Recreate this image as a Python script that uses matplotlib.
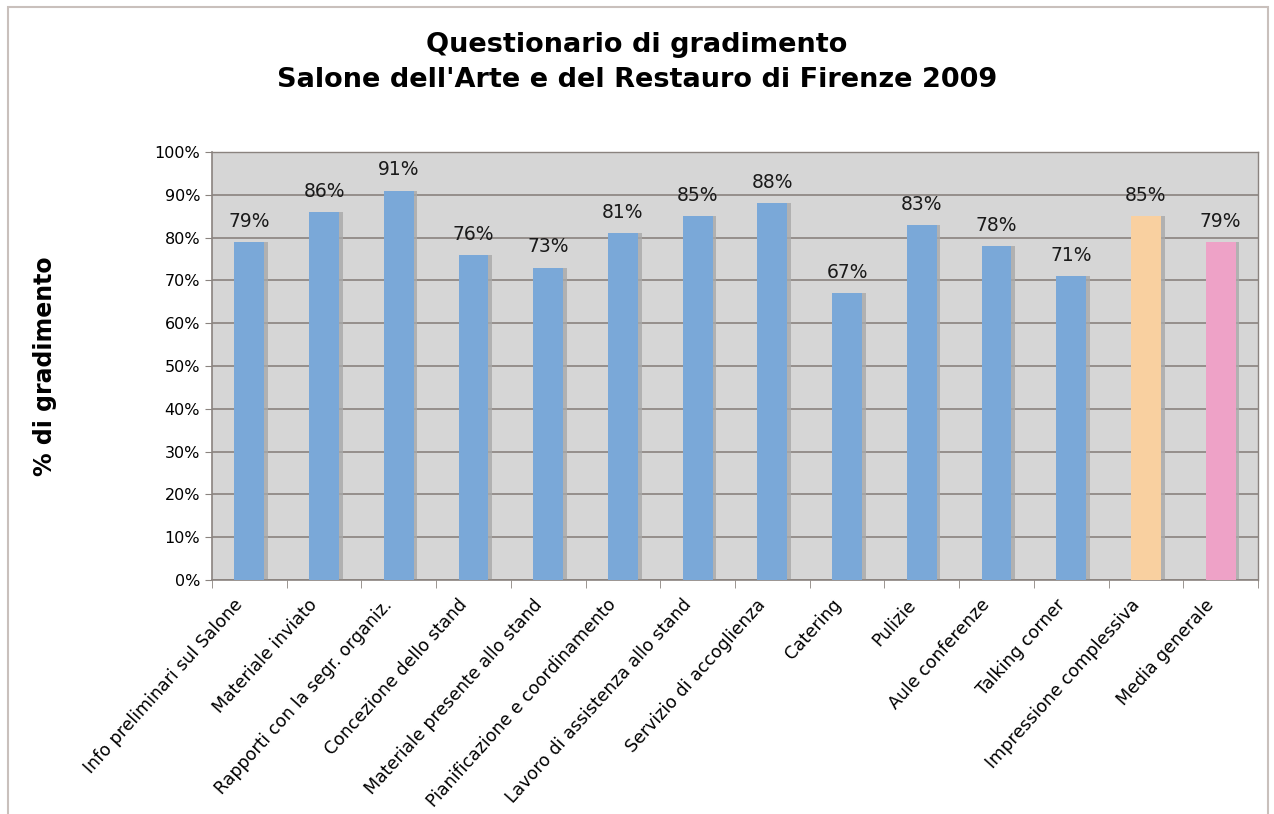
import matplotlib.pyplot as plt
import numpy as np
from matplotlib.patches import Rectangle
from matplotlib.transforms import ScaledTranslation

categories = [
    "Info preliminari sul Salone", "Materiale inviato", "Rapporti con la segr. organiz.",
    "Concezione dello stand", "Materiale presente allo stand", "Pianificazione e coordinamento",
    "Lavoro di assistenza allo stand", "Servizio di accoglienza", "Catering", "Pulizie",
    "Aule conferenze", "Talking corner", "Impressione complessiva", "Media generale",
]
values = [79, 86, 91, 76, 73, 81, 85, 88, 67, 83, 78, 71, 85, 79]
bar_colors = ["#7aa8d8"] * 12 + ["#f9d0a0", "#eea2c7"]

fig = plt.figure(figsize=(12.74, 8.14), dpi=100)

# outer frame like the excel chart area
fig.patches.append(Rectangle((8 / 1274, -0.01), 1260 / 1274, 1 - 7 / 814 + 0.01,
                             transform=fig.transFigure, fill=False,
                             edgecolor="#c9c0bc", linewidth=1.5))

ax = fig.add_axes([212 / 1274, 1 - 580 / 814, (1258 - 212) / 1274, (580 - 152) / 814])
ax.set_facecolor("#d6d6d6")

x = np.arange(len(categories))
width = 0.4
# shadow behind the bars
ax.bar(x + 0.05, values, width, color="#a8a8a8", alpha=0.8, zorder=2)
ax.bar(x, values, width, color=bar_colors, zorder=3)

for xi, v in zip(x, values):
    ax.annotate(f"{v}%", (xi, v), xytext=(0, 8), textcoords="offset points",
                ha="center", va="bottom", fontsize=13.5, color="#1a1a1a")

ax.set_xlim(-0.5, len(categories) - 0.5)
ax.set_ylim(0, 100)
ax.set_yticks(range(0, 101, 10))
ax.set_yticklabels([f"{t}%" for t in range(0, 101, 10)], fontsize=11.5)
ax.yaxis.grid(True, color="#8a837f", linewidth=1.2, zorder=1)
ax.set_axisbelow(True)

ax.set_xticks(x)
ax.set_xticklabels(categories, rotation=48, ha="right", rotation_mode="anchor", fontsize=12.5)
ax.set_xticks(np.arange(-0.5, len(categories), 1), minor=True)
ax.tick_params(axis="x", which="major", length=0, pad=10)
ax.tick_params(axis="x", which="minor", length=6, color="#8a837f")
ax.tick_params(axis="y", length=5, color="#8a837f")

# nudge the slanted labels so their ends sit just left of the bars
shift = ScaledTranslation(-0.16, -0.02, fig.dpi_scale_trans)
for lbl in ax.get_xticklabels():
    lbl.set_transform(lbl.get_transform() + shift)

for side in ["left", "bottom"]:
    ax.spines[side].set_color("#8a837f")
    ax.spines[side].set_linewidth(1.2)
for side in ["top", "right"]:
    ax.spines[side].set_color("#8a837f")
    ax.spines[side].set_linewidth(1.0)

fig.text(45 / 1274, 1 - 366 / 814, "% di gradimento", rotation=90, ha="center", va="center",
         fontsize=17, fontweight="bold")

fig.text(0.5, 1 - 45 / 814, "Questionario di gradimento", ha="center", va="center",
         fontsize=19.5, fontweight="bold")
fig.text(0.5, 1 - 80 / 814, "Salone dell'Arte e del Restauro di Firenze 2009", ha="center",
         va="center", fontsize=19.5, fontweight="bold")

fig.savefig("out.png", dpi=100)
